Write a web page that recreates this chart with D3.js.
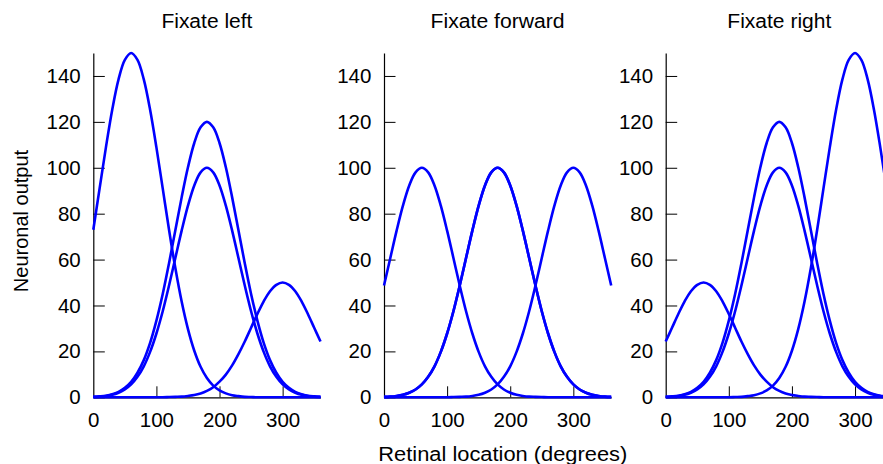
<!DOCTYPE html>
<html>
<head>
<meta charset="utf-8">
<script src="https://cdn.jsdelivr.net/npm/d3@7/dist/d3.min.js"></script>
<style>
  html, body { margin: 0; padding: 0; background: #fff; overflow: hidden; }
  svg { display: block; font-family: "Liberation Sans", Arial, sans-serif; }
</style>
</head>
<body>
<svg id="chart" width="883" height="464"></svg>
<script>
// Retinal locations sampled every 10 degrees
const locations = d3.range(0, 361, 10);

const panelTitles = ["Fixate left", "Fixate forward", "Fixate right"];
const xTicks = [0, 100, 200, 300];
const yTicks = [0, 20, 40, 60, 80, 100, 120, 140];

// Tuning curves (neuronal output at each retinal location)
const peak60_150 = [73.0, 91.0, 108.9, 125.3, 138.5, 147.0, 150.0, 147.0, 138.5, 125.3, 108.9, 91.0, 73.0, 56.3, 41.7, 29.7, 20.3, 13.3, 8.4, 5.1, 3.0, 1.7, 0.9, 0.5, 0.2, 0.1, 0.0, 0, 0, 0, 0, 0, 0, 0, 0, 0, 0];
const peak60_100 = [48.7, 60.7, 72.6, 83.5, 92.3, 98.0, 100.0, 98.0, 92.3, 83.5, 72.6, 60.7, 48.7, 37.5, 27.8, 19.8, 13.5, 8.9, 5.6, 3.4, 2.0, 1.1, 0.6, 0.3, 0.2, 0.1, 0.0, 0, 0, 0, 0, 0, 0, 0, 0, 0, 0];
const peak60_50 = [24.3, 30.3, 36.3, 41.8, 46.2, 49.0, 50.0, 49.0, 46.2, 41.8, 36.3, 30.3, 24.3, 18.8, 13.9, 9.9, 6.8, 4.4, 2.8, 1.7, 1.0, 0.6, 0.3, 0.2, 0.1, 0.0, 0.0, 0, 0, 0, 0, 0, 0, 0, 0, 0, 0];
const peak180_100 = [0.2, 0.3, 0.6, 1.1, 2.0, 3.4, 5.6, 8.9, 13.5, 19.8, 27.8, 37.5, 48.7, 60.7, 72.6, 83.5, 92.3, 98.0, 100.0, 98.0, 92.3, 83.5, 72.6, 60.7, 48.7, 37.5, 27.8, 19.8, 13.5, 8.9, 5.6, 3.4, 2.0, 1.1, 0.6, 0.3, 0.2];
const peak180_120 = [0.2, 0.4, 0.7, 1.3, 2.4, 4.1, 6.7, 10.7, 16.2, 23.7, 33.4, 45.0, 58.4, 72.8, 87.1, 100.2, 110.8, 117.6, 120.0, 117.6, 110.8, 100.2, 87.1, 72.8, 58.4, 45.0, 33.4, 23.7, 16.2, 10.7, 6.7, 4.1, 2.4, 1.3, 0.7, 0.4, 0.2];
const peak300_50 = [0, 0, 0, 0, 0, 0, 0, 0, 0, 0, 0.0, 0.0, 0.1, 0.2, 0.3, 0.6, 1.0, 1.7, 2.8, 4.4, 6.8, 9.9, 13.9, 18.8, 24.3, 30.3, 36.3, 41.8, 46.2, 49.0, 50.0, 49.0, 46.2, 41.8, 36.3, 30.3, 24.3];
const peak300_100 = [0, 0, 0, 0, 0, 0, 0, 0, 0, 0, 0.0, 0.1, 0.2, 0.3, 0.6, 1.1, 2.0, 3.4, 5.6, 8.9, 13.5, 19.8, 27.8, 37.5, 48.7, 60.7, 72.6, 83.5, 92.3, 98.0, 100.0, 98.0, 92.3, 83.5, 72.6, 60.7, 48.7];
const peak300_150 = [0, 0, 0, 0, 0, 0, 0, 0, 0, 0, 0.0, 0.1, 0.2, 0.5, 0.9, 1.7, 3.0, 5.1, 8.4, 13.3, 20.3, 29.7, 41.7, 56.3, 73.0, 91.0, 108.9, 125.3, 138.5, 147.0, 150.0, 147.0, 138.5, 125.3, 108.9, 91.0, 73.0];

// Curves drawn in each panel
const fixateLeft = [peak60_150, peak180_120, peak180_100, peak300_50];
const fixateForward = [peak60_100, peak180_100, peak180_100, peak300_100];
const fixateRight = [peak60_50, peak180_120, peak180_100, peak300_150];
const panelCurves = [fixateLeft, fixateForward, fixateRight];

const svg = d3.select("#chart");
const panelLeft = [93.3, 384, 665.7];
const plotWidth = 227.2;
const plotTop = 53;
const plotBottom = 397.3;
const titleWidths = [91, 134, 104];

const y = d3.scaleLinear().domain([0, 150]).range([plotBottom, plotTop]);

panelCurves.forEach((curves, i) => {
  const x = d3.scaleLinear().domain([0, 360]).range([panelLeft[i], panelLeft[i] + plotWidth]);
  const g = svg.append("g");

  // x axis with inward ticks
  const xAxis = g.append("g")
    .attr("transform", `translate(0,${plotBottom})`)
    .call(d3.axisBottom(x).tickValues(xTicks).tickFormat(d3.format("d"))
      .tickSizeInner(-11).tickSizeOuter(0).tickPadding(15));
  // y axis with inward ticks
  const yAxis = g.append("g")
    .attr("transform", `translate(${panelLeft[i]},0)`)
    .call(d3.axisLeft(y).tickValues(yTicks).tickFormat(d3.format("d"))
      .tickSizeInner(-11.5).tickSizeOuter(0).tickPadding(12.6));

  [xAxis, yAxis].forEach(a => {
    a.selectAll("text").attr("font-size", 20.5).attr("fill", "#000")
      .attr("font-family", "'Liberation Sans', Arial, sans-serif");
    a.selectAll("line").attr("stroke", "#000").attr("stroke-width", 1);
    a.select(".domain").attr("stroke", "#000").attr("stroke-width", 1.2);
  });
  xAxis.selectAll(".tick").filter(d => d === 0).select("line").remove();

  const line = d3.line()
    .x((d, k) => x(locations[k]))
    .y(d => y(d))
    .curve(d3.curveCatmullRom.alpha(0.5));

  g.selectAll("path.curve")
    .data(curves)
    .join("path")
    .attr("class", "curve")
    .attr("d", line)
    .attr("fill", "none")
    .attr("stroke", "#0000ff")
    .attr("stroke-width", 2.6)
    .attr("stroke-linejoin", "round");

  g.append("text")
    .attr("x", panelLeft[i] + plotWidth / 2)
    .attr("y", 28.3)
    .attr("text-anchor", "middle")
    .attr("font-size", 20)
    .attr("textLength", titleWidths[i])
    .attr("lengthAdjust", "spacingAndGlyphs")
    .attr("fill", "#000")
    .text(panelTitles[i]);
});

svg.append("text")
  .attr("transform", "translate(28,221) rotate(-90)")
  .attr("text-anchor", "middle")
  .attr("font-size", 20)
  .attr("fill", "#000")
  .text("Neuronal output");

svg.append("text")
  .attr("x", 502.8)
  .attr("y", 460.5)
  .attr("text-anchor", "middle")
  .attr("font-size", 20)
  .attr("textLength", 249)
  .attr("lengthAdjust", "spacingAndGlyphs")
  .attr("fill", "#000")
  .text("Retinal location (degrees)");
</script>
</body>
</html>
